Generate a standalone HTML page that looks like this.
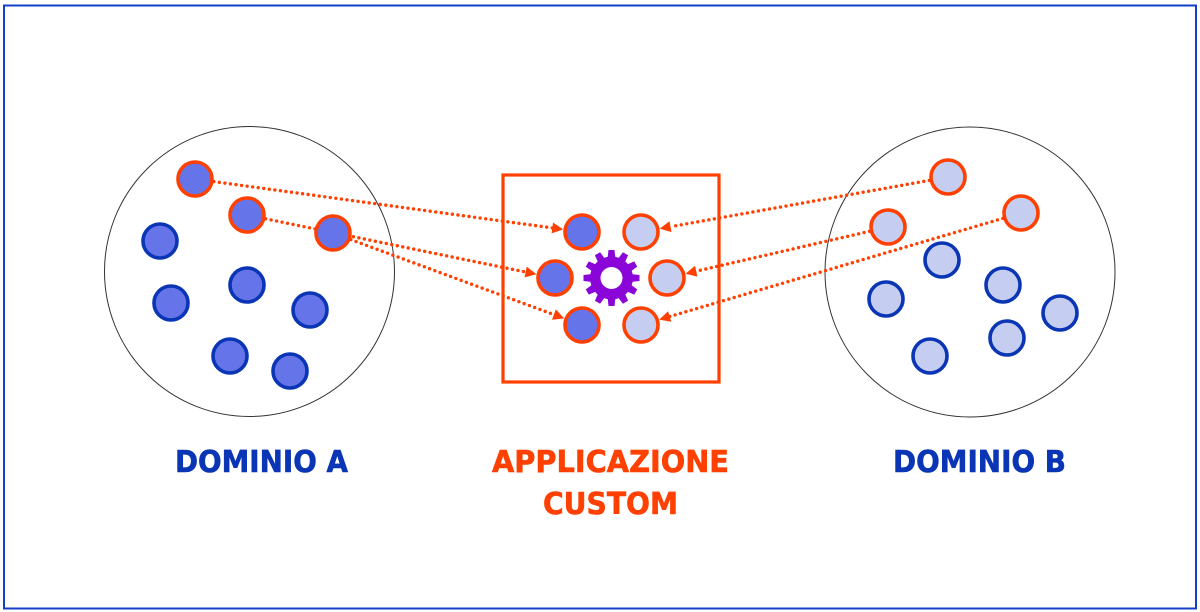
<!DOCTYPE html>
<html>
<head>
<meta charset="utf-8">
<style>
html,body{margin:0;padding:0;background:#fff;}
svg{display:block;}
</style>
</head>
<body>
<svg width="1200" height="612" viewBox="0 0 1200 612" xmlns="http://www.w3.org/2000/svg">
  <rect x="0" y="0" width="1200" height="612" fill="#fff"/>
  <rect x="4" y="5.5" width="1192" height="603" fill="none" stroke="#1440c8" stroke-width="2"/>

  <!-- big domain circles -->
  <circle cx="249.5" cy="271.5" r="145" fill="none" stroke="#333" stroke-width="1"/>
  <circle cx="970" cy="272" r="145" fill="none" stroke="#333" stroke-width="1"/>

  <!-- central box -->
  <rect x="503" y="175" width="216" height="207" fill="none" stroke="#ff4000" stroke-width="3.2"/>

  <!-- dotted connectors -->
  <g stroke="#ff4000" stroke-width="3.4" stroke-linecap="round" stroke-dasharray="0 5.6" fill="none">
    <line x1="213.8" y1="181.6" x2="552.3" y2="227.9"/>
    <line x1="265.6" y1="218.8" x2="525.6" y2="272.0"/>
    <line x1="350.8" y1="239.6" x2="553.9" y2="314.6"/>
    <line x1="929.3" y1="180.4" x2="670.5" y2="226.7"/>
    <line x1="869.5" y1="231.3" x2="696.2" y2="271.2"/>
    <line x1="1002.8" y1="218.4" x2="669.7" y2="316.5"/>
  </g>
  <!-- arrowheads -->
  <g fill="#ff4000">
    <polygon points="563.2,229.4 551.6,233.35 553.0,222.45"/>
    <polygon points="536.4,274.2 524.5,277.4 526.7,266.6"/>
    <polygon points="564.2,318.4 552.0,319.8 555.8,309.4"/>
    <polygon points="659.7,228.6 669.5,221.3 671.5,232.1"/>
    <polygon points="685.5,273.7 695.0,265.8 697.4,276.6"/>
    <polygon points="659.2,319.6 668.1,311.2 671.3,321.8"/>
  </g>

  <!-- Domain A nodes -->
  <g stroke-width="3.6" fill="#6674ea">
    <circle cx="160" cy="241" r="17" stroke="#0a35b5"/>
    <circle cx="171" cy="303" r="17" stroke="#0a35b5"/>
    <circle cx="247" cy="285" r="17" stroke="#0a35b5"/>
    <circle cx="310" cy="310" r="17" stroke="#0a35b5"/>
    <circle cx="230" cy="356" r="17" stroke="#0a35b5"/>
    <circle cx="290" cy="371" r="17" stroke="#0a35b5"/>
    <circle cx="195" cy="179" r="17" stroke="#ff4000"/>
    <circle cx="247" cy="215" r="17" stroke="#ff4000"/>
    <circle cx="333" cy="233" r="17" stroke="#ff4000"/>
  </g>

  <!-- Domain B nodes -->
  <g stroke-width="3.6" fill="#c5cdf1">
    <circle cx="942" cy="260" r="17" stroke="#0a35b5"/>
    <circle cx="886" cy="299" r="17" stroke="#0a35b5"/>
    <circle cx="1003" cy="285" r="17" stroke="#0a35b5"/>
    <circle cx="1060" cy="313" r="17" stroke="#0a35b5"/>
    <circle cx="1007" cy="338" r="17" stroke="#0a35b5"/>
    <circle cx="930" cy="356" r="17" stroke="#0a35b5"/>
    <circle cx="948" cy="177" r="17" stroke="#ff4000"/>
    <circle cx="1021" cy="213" r="17" stroke="#ff4000"/>
    <circle cx="888" cy="227" r="17" stroke="#ff4000"/>
  </g>

  <!-- central nodes -->
  <g stroke-width="3.6" stroke="#ff4000">
    <circle cx="582" cy="232" r="17" fill="#6674ea"/>
    <circle cx="555" cy="278" r="17" fill="#6674ea"/>
    <circle cx="582" cy="325" r="17" fill="#6674ea"/>
    <circle cx="641" cy="232" r="17" fill="#c5cdf1"/>
    <circle cx="667" cy="278" r="17" fill="#c5cdf1"/>
    <circle cx="641" cy="325" r="17" fill="#c5cdf1"/>
  </g>

  <!-- gear -->
  <g transform="translate(611.5,278)" fill="#8a06d8">
    <circle r="21.5"/>
    <g>
      <path d="M-4,-19 L-3,-28 L3,-28 L4,-19 Z" transform="rotate(0)"/>
      <path d="M-4,-19 L-3,-28 L3,-28 L4,-19 Z" transform="rotate(30)"/>
      <path d="M-4,-19 L-3,-28 L3,-28 L4,-19 Z" transform="rotate(60)"/>
      <path d="M-4,-19 L-3,-28 L3,-28 L4,-19 Z" transform="rotate(90)"/>
      <path d="M-4,-19 L-3,-28 L3,-28 L4,-19 Z" transform="rotate(120)"/>
      <path d="M-4,-19 L-3,-28 L3,-28 L4,-19 Z" transform="rotate(150)"/>
      <path d="M-4,-19 L-3,-28 L3,-28 L4,-19 Z" transform="rotate(180)"/>
      <path d="M-4,-19 L-3,-28 L3,-28 L4,-19 Z" transform="rotate(210)"/>
      <path d="M-4,-19 L-3,-28 L3,-28 L4,-19 Z" transform="rotate(240)"/>
      <path d="M-4,-19 L-3,-28 L3,-28 L4,-19 Z" transform="rotate(270)"/>
      <path d="M-4,-19 L-3,-28 L3,-28 L4,-19 Z" transform="rotate(300)"/>
      <path d="M-4,-19 L-3,-28 L3,-28 L4,-19 Z" transform="rotate(330)"/>
    </g>
    <circle r="11" fill="#fff"/>
  </g>

  <!-- labels -->
  <g font-family="'DejaVu Sans', 'Liberation Sans', sans-serif" font-weight="bold" font-size="30" stroke-width="0.6">
    <text x="175" y="472" fill="#0a35b5" stroke="#0a35b5" textLength="173" lengthAdjust="spacingAndGlyphs">DOMINIO A</text>
    <text x="893" y="472" fill="#0a35b5" stroke="#0a35b5" textLength="173" lengthAdjust="spacingAndGlyphs">DOMINIO B</text>
    <text x="492" y="472" fill="#ff4000" stroke="#ff4000" textLength="237" lengthAdjust="spacingAndGlyphs">APPLICAZIONE</text>
    <text x="543" y="514" fill="#ff4000" stroke="#ff4000" textLength="135" lengthAdjust="spacingAndGlyphs">CUSTOM</text>
  </g>
</svg>
</body>
</html>
